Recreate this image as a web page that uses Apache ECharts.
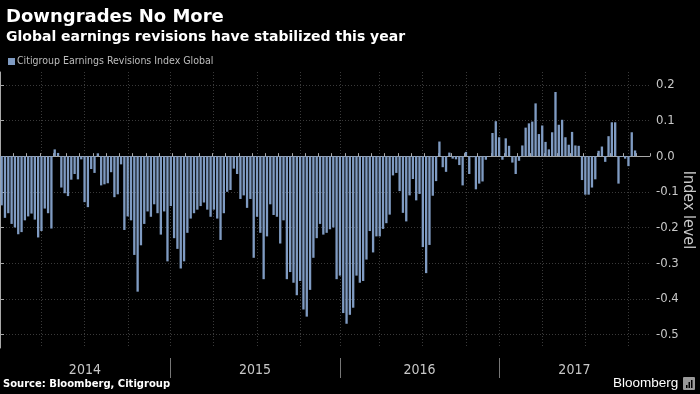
<!DOCTYPE html>
<html><head><meta charset="utf-8">
<script src="https://cdn.jsdelivr.net/npm/echarts@6/dist/echarts.min.js"></script>
<style>html,body{margin:0;padding:0;background:#000;}#c{width:700px;height:394px;}</style>
</head><body><div id="c"></div>
<script>
// ---- data ----
const seriesName = 'Citigroup Earnings Revisions Index Global';
const years = ['2014', '2015', '2016', '2017'];
// year boundaries and label centres, in weekly-slot units along the x axis
const yearBounds = [51.3, 102.5, 150.6];
const yearMids = [25.6, 76.9, 126.5, 173.2];
// quarterly vertical grid lines (weekly-slot units)
const quarterLines = [12.4, 25.3, 38.6, 51.3, 64.2, 77.5, 90.5, 102.5, 114.3, 127.3, 140.5, 150.6, 163.4, 176.4, 189.4];
const yTicks = [-0.5, -0.4, -0.3, -0.2, -0.1, 0, 0.1, 0.2];
const slotCount = 196;
const values2014 = [-0.138,-0.173,-0.16,-0.19,-0.20,-0.219,-0.213,-0.18,-0.169,-0.161,-0.178,-0.228,-0.21,-0.147,-0.16,-0.203,0.019,0.009,-0.088,-0.104,-0.112,-0.066,-0.05,-0.065,-0.009,-0.129,-0.143,-0.036,-0.047,0.008,-0.082,-0.079,-0.076,-0.045,-0.115,-0.107,-0.023,-0.207,-0.169];
const valuesB = [-0.18,-0.277,-0.38,-0.25,-0.19,-0.155,-0.17,-0.135,-0.16,-0.22,-0.155,-0.295,-0.14,-0.23,-0.26,-0.315,-0.295,-0.215,-0.175,-0.16,-0.15,-0.14,-0.13,-0.15,-0.17,-0.15,-0.175,-0.235,-0.16,-0.10,-0.095,-0.035,-0.05,-0.12,-0.11,-0.145,-0.12,-0.285];
const valuesC = [-0.17,-0.215,-0.345,-0.225,-0.135,-0.165,-0.17,-0.245,-0.18,-0.345,-0.325,-0.355,-0.39,-0.35,-0.43,-0.45,-0.375,-0.285,-0.23,-0.19,-0.22,-0.215,-0.205,-0.20,-0.345,-0.335,-0.44,-0.47,-0.445,-0.425,-0.335,-0.355,-0.35,-0.29,-0.21,-0.27,-0.225,-0.225];
const valuesD = [-0.204,-0.188,-0.164,-0.054,-0.047,-0.098,-0.159,-0.183,-0.11,-0.064,-0.124,-0.106,-0.255,-0.328,-0.249,-0.111,-0.07,0.041,-0.031,-0.044,0.01,-0.007,-0.009,-0.025,-0.082,0.012,-0.05,-0.003,-0.093,-0.077,-0.071,-0.01,-0.001,0.065,0.098,0.053,-0.01,0.05];
const valuesE = [0.029,-0.018,-0.05,-0.013,0.03,0.08,0.092,0.097,0.148,0.062,0.086,0.04,0.019,0.067,0.18,0.088,0.102,0.053,0.032,0.068,0.03,0.029,-0.067,-0.108,-0.108,-0.088,-0.065,0.015,0.027,-0.016,0.056,0.095,0.095,-0.077,-0.002,-0.007,-0.028,0.067,0.016];

const values = [].concat(values2014, valuesB, valuesC, valuesD, valuesE);
const slots = [];
for (let i = 0; i < slotCount; i++) slots.push('W' + (i + 1));

const narrow = "'Liberation Sans Narrow','DejaVu Sans Condensed','Liberation Sans',sans-serif";
const bold = "'DejaVu Sans',sans-serif";
const axisCol = '#a8a8a8';
const gridCol = '#3a3a3a';

const chart = echarts.init(document.getElementById('c'), null, {renderer: 'canvas'});
chart.setOption({
  backgroundColor: '#000',
  animation: false,
  title: [
    {text: 'Downgrades No More', left: 1, top: 3,
     textStyle: {color: '#fff', fontFamily: bold, fontWeight: 'bold', fontSize: 18}},
    {text: 'Global earnings revisions have stabilized this year', left: 1, top: 25,
     textStyle: {color: '#fff', fontFamily: bold, fontWeight: 'bold', fontSize: 14}}
  ],
  legend: {
    data: [seriesName], left: 3, top: 51, icon: 'rect', itemWidth: 7, itemHeight: 7, itemGap: 4,
    textStyle: {color: '#bdbdbd', fontFamily: narrow, fontSize: 10.5, padding: [0, 0, 0, -3]}
  },
  grid: {left: 0, right: 50, top: 72, bottom: 46, containLabel: false, outerBoundsMode: 'none'},
  xAxis: [
    {type: 'category', data: slots, boundaryGap: true,
     axisLine: {show: true, lineStyle: {color: axisCol, width: 1}},
     axisTick: {show: true, inside: true, length: 3, interval: 3, lineStyle: {color: axisCol}},
     axisLabel: {show: false}, splitLine: {show: false}},
    {type: 'value', min: 0, max: slotCount, position: 'bottom',
     axisLine: {show: false}, axisLabel: {show: false},
     axisTick: {show: false, customValues: quarterLines},
     splitLine: {show: true, lineStyle: {color: gridCol, type: [1, 2], width: 1}}},
    {type: 'value', min: 0, max: slotCount, position: 'bottom', offset: 10,
     axisLine: {show: false}, splitLine: {show: false},
     axisTick: {show: true, length: 20, customValues: yearBounds, lineStyle: {color: '#777'}},
     axisLabel: {show: true, customValues: yearMids, margin: 5, color: '#c8c8c8', fontFamily: narrow, fontSize: 14,
       formatter: function (v) { const i = yearMids.indexOf(v); return i >= 0 ? years[i] : ''; }}}
  ],
  yAxis: {
    type: 'value', position: 'right', min: -0.538, max: 0.236,
    axisLine: {show: true, lineStyle: {color: axisCol}},
    axisTick: {show: true, length: 4, customValues: yTicks, lineStyle: {color: axisCol}},
    axisLabel: {customValues: yTicks, margin: 6, color: '#c8c8c8', fontFamily: narrow, fontSize: 13,
      formatter: function (v) { return v.toFixed(1); }},
    splitLine: {show: true, lineStyle: {color: gridCol, type: [1, 2], width: 1}}
  },
  series: [{
    name: seriesName, type: 'bar', xAxisIndex: 0, yAxisIndex: 0,
    data: values, barCategoryGap: '30%',
    itemStyle: {color: '#7f9bc2'}
  }],
  graphic: [
    {type: 'text', x: 688, y: 210, rotation: -Math.PI / 2,
     style: {text: 'Index level', fill: '#c8c8c8', font: '16px ' + narrow, align: 'center', verticalAlign: 'middle'}},
    {type: 'text', left: 3, top: 379,
     style: {text: 'Source: Bloomberg, Citigroup', fill: '#fff', font: 'bold 10px ' + bold}},
    {type: 'text', left: 613, top: 376,
     style: {text: 'Bloomberg', fill: '#fff', font: '13.5px "Liberation Sans",Arial,sans-serif'}},
    {type: 'rect', left: 683, top: 377, shape: {width: 12, height: 13, r: 1}, style: {fill: '#9a9a9a'}},
    {type: 'rect', left: 686, top: 385, shape: {width: 1.5, height: 3}, style: {fill: '#000'}},
    {type: 'rect', left: 688.5, top: 382, shape: {width: 1.5, height: 6}, style: {fill: '#000'}},
    {type: 'rect', left: 691, top: 380, shape: {width: 1.5, height: 8}, style: {fill: '#000'}}
  ]
});
</script></body></html>
